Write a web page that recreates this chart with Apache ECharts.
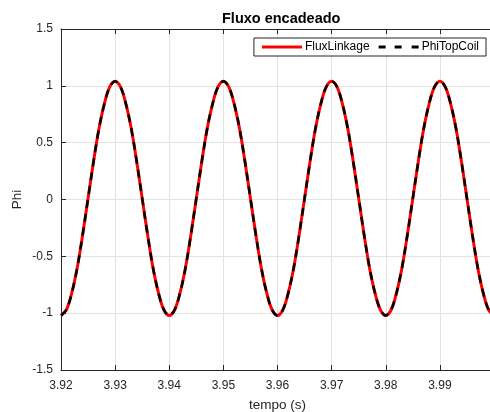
<!DOCTYPE html>
<html>
<head>
<meta charset="utf-8">
<script src="https://cdn.jsdelivr.net/npm/echarts@6/dist/echarts.min.js"></script>
<style>html,body{margin:0;padding:0;background:#fff}#c{width:490px;height:412px}</style>
</head>
<body>
<div id="c"></div>
<script>
const titleText = 'Fluxo encadeado';
const xName = 'tempo (s)';
const yName = 'Phi';
const time = [3.920,3.921,3.922,3.923,3.924,3.925,3.926,3.927,3.928,3.929,
  3.930,3.931,3.932,3.933,3.934,3.935,3.936,3.937,3.938,3.939,
  3.940,3.941,3.942,3.943,3.944,3.945,3.946,3.947,3.948,3.949,
  3.950,3.951,3.952,3.953,3.954,3.955,3.956,3.957,3.958,3.959,
  3.960,3.961,3.962,3.963,3.964,3.965,3.966,3.967,3.968,3.969,
  3.970,3.971,3.972,3.973,3.974,3.975,3.976,3.977,3.978,3.979,
  3.980,3.981,3.982,3.983,3.984,3.985,3.986,3.987,3.988,3.989,
  3.990,3.991,3.992,3.993,3.994,3.995,3.996,3.997,3.998,3.999,4.000];
const fluxLinkage = [-1.02,-0.97,-0.82,-0.60,-0.31,0.01,0.33,0.62,0.84,0.99,
  1.04,0.99,0.84,0.62,0.33,0.01,-0.31,-0.60,-0.82,-0.97,
  -1.02,-0.97,-0.82,-0.60,-0.31,0.01,0.33,0.62,0.84,0.99,
  1.04,0.99,0.84,0.62,0.33,0.01,-0.31,-0.60,-0.82,-0.97,
  -1.02,-0.97,-0.82,-0.60,-0.31,0.01,0.33,0.62,0.84,0.99,
  1.04,0.99,0.84,0.62,0.33,0.01,-0.31,-0.60,-0.82,-0.97,
  -1.02,-0.97,-0.82,-0.60,-0.31,0.01,0.33,0.62,0.84,0.99,
  1.04,0.99,0.84,0.62,0.33,0.01,-0.31,-0.60,-0.82,-0.97,-1.02];
const phiTopCoil = [-1.02,-0.97,-0.82,-0.60,-0.31,0.01,0.33,0.62,0.84,0.99,
  1.04,0.99,0.84,0.62,0.33,0.01,-0.31,-0.60,-0.82,-0.97,
  -1.02,-0.97,-0.82,-0.60,-0.31,0.01,0.33,0.62,0.84,0.99,
  1.04,0.99,0.84,0.62,0.33,0.01,-0.31,-0.60,-0.82,-0.97,
  -1.02,-0.97,-0.82,-0.60,-0.31,0.01,0.33,0.62,0.84,0.99,
  1.04,0.99,0.84,0.62,0.33,0.01,-0.31,-0.60,-0.82,-0.97,
  -1.02,-0.97,-0.82,-0.60,-0.31,0.01,0.33,0.62,0.84,0.99,
  1.04,0.99,0.84,0.62,0.33,0.01,-0.31,-0.60,-0.82,-0.97,-1.02];
const xTicks = ['3.92','3.93','3.94','3.95','3.96','3.97','3.98','3.99'];
const yTicks = ['-1.5','-1','-0.5','0','0.5','1','1.5'];

const font = '"Liberation Sans", Arial, Helvetica, sans-serif';
const axisColor = '#262626';
const chart = echarts.init(document.getElementById('c'), null, {renderer: 'canvas'});
const pair = (xs, ys) => xs.map((x, i) => [x, ys[i]]);
chart.setOption({
  animation: false,
  backgroundColor: '#fff',
  title: {
    text: titleText, left: 217, top: 6,
    textStyle: {fontFamily: font, fontSize: 14.5, fontWeight: 'bold', color: '#000'}
  },
  legend: {
    right: 4, top: 38,
    orient: 'horizontal',
    backgroundColor: '#fff',
    borderColor: axisColor, borderWidth: 1, borderRadius: 0,
    padding: [3, 7, 3, 8],
    itemGap: 9, itemWidth: 40, itemHeight: 3,
    textStyle: {fontFamily: font, fontSize: 12, color: '#000', padding: [0, 0, 0, -2]},
    data: [
      {name: 'FluxLinkage', icon: 'path://M0,0h40v3h-40z', itemStyle: {color: '#ff0000'}},
      {name: 'PhiTopCoil', icon: 'path://M0,0h7v3h-7z M16,0h7v3h-7z M33,0h7v3h-7z', itemStyle: {color: '#000'}}
    ]
  },
  grid: {left: 61, right: -4, top: 29, bottom: 42, containLabel: false, outerBoundsMode: 'none'},
  xAxis: [{
    type: 'value', min: 3.92, max: 4.0, interval: 0.01, position: 'bottom',
    name: xName, nameLocation: 'middle', nameGap: 28, nameMoveOverlap: false,
    nameTextStyle: {fontFamily: font, fontSize: 13.5, color: axisColor},
    axisLine: {show: true, onZero: false, lineStyle: {color: axisColor, width: 1}},
    axisTick: {show: true, inside: true, length: 5, lineStyle: {color: axisColor}},
    axisLabel: {
      fontFamily: font, fontSize: 12, color: axisColor, margin: 10,
      showMaxLabel: false,
      formatter: v => { const s = v.toFixed(2); return xTicks.indexOf(s) >= 0 ? s : ''; }
    },
    splitLine: {show: true, lineStyle: {color: '#e3e3e3', width: 1}}
  }, {
    type: 'value', min: 3.92, max: 4.0, interval: 0.01, position: 'top',
    axisLine: {show: true, onZero: false, lineStyle: {color: axisColor, width: 1}},
    axisTick: {show: true, inside: true, length: 5, lineStyle: {color: axisColor}},
    axisLabel: {show: false},
    splitLine: {show: false}
  }],
  yAxis: {
    type: 'value', min: -1.5, max: 1.5, interval: 0.5,
    name: yName, nameLocation: 'middle', nameGap: 37, nameRotate: 90, nameMoveOverlap: false,
    nameTextStyle: {fontFamily: font, fontSize: 13.5, color: axisColor},
    axisLine: {show: true, onZero: false, lineStyle: {color: axisColor, width: 1}},
    axisTick: {show: true, inside: true, length: 5, lineStyle: {color: axisColor}},
    axisLabel: {
      fontFamily: font, fontSize: 12, color: axisColor, margin: 8,
      formatter: v => { const s = String(Math.round(v * 10) / 10); return yTicks.indexOf(s) >= 0 ? s : ''; }
    },
    splitLine: {show: true, lineStyle: {color: '#e3e3e3', width: 1}}
  },
  series: [{
    name: 'FluxLinkage', type: 'line', xAxisIndex: 0, showSymbol: false, symbol: 'none',
    smooth: 0.35, data: pair(time, fluxLinkage),
    lineStyle: {color: '#ff0000', width: 3}, itemStyle: {color: '#ff0000'}
  }, {
    name: 'PhiTopCoil', type: 'line', xAxisIndex: 0, showSymbol: false, symbol: 'none',
    smooth: 0.35, data: pair(time, phiTopCoil),
    lineStyle: {color: '#000000', width: 2.5, type: [8, 6]}, itemStyle: {color: '#000'}
  }]
});
</script>
</body>
</html>
